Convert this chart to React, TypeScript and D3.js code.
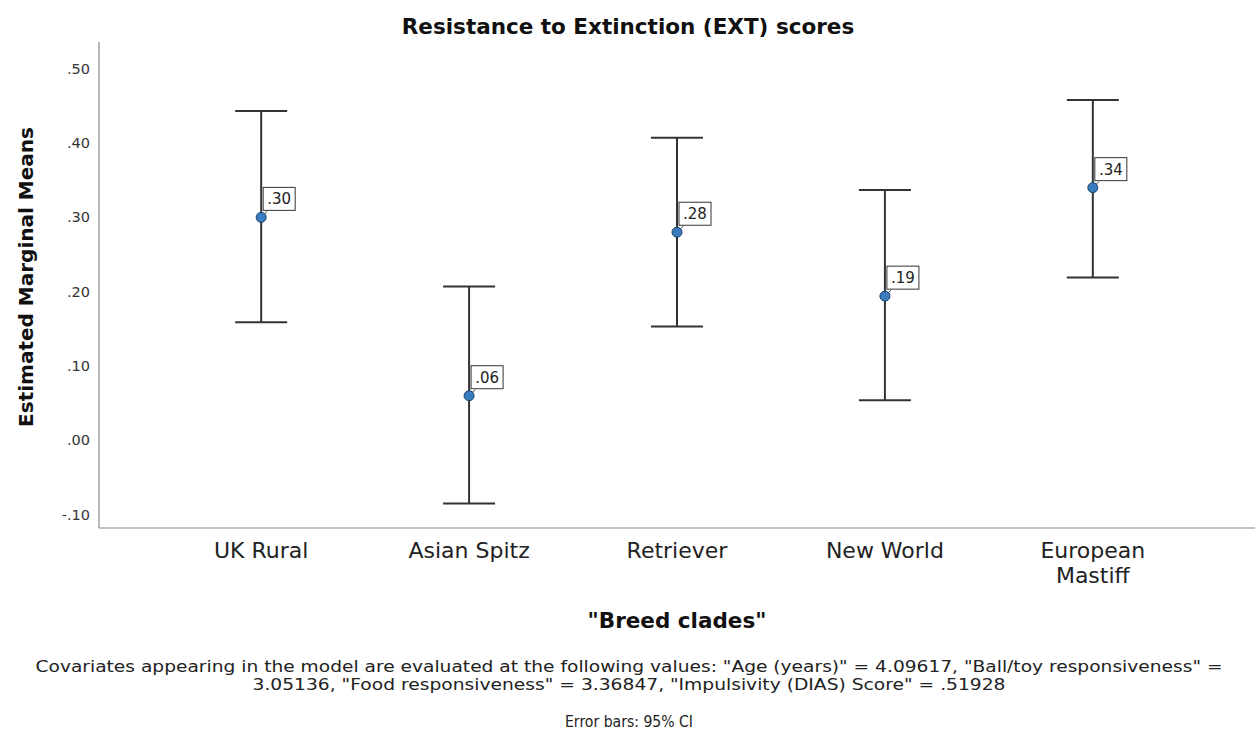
import React from 'react';
import * as d3 from 'd3';

const clades = ['UK Rural', 'Asian Spitz', 'Retriever', 'New World', 'European Mastiff'];
const means = [0.30, 0.06, 0.28, 0.194, 0.34];
const lower = [0.159, -0.085, 0.153, 0.054, 0.219];
const upper = [0.443, 0.207, 0.407, 0.337, 0.458];
const yTicks = [-0.1, 0, 0.1, 0.2, 0.3, 0.4, 0.5];
const footLines = [
  'Covariates appearing in the model are evaluated at the following values: "Age (years)" = 4.09617, "Ball/toy responsiveness" =',
  '3.05136, "Food responsiveness" = 3.36847, "Impulsivity (DIAS) Score" = .51928',
];

const W = 1259;
const H = 735;
const font = '"DejaVu Sans", sans-serif';

const fmt = (v: number) => {
  const s = Math.abs(v).toFixed(2).replace(/^0/, '');
  return v < 0 ? '-' + s : s;
};

export default function App() {
  const left = 99;
  const right = 1255;
  const top = 42;
  const bottom = 528;

  const x = d3.scalePoint<string>().domain(clades).range([left, right]).padding(0.78);
  const y = d3.scaleLinear().domain([-0.118, 0.536]).range([bottom, top]);

  const data = clades.map((c, i) => ({ c, m: means[i], lo: lower[i], hi: upper[i] }));

  return (
    <svg width={W} height={H} style={{ position: 'absolute', left: 0, top: 0, background: '#fff' }} fontFamily={font}>
      <text x={628} y={34} textAnchor="middle" fontSize={21.5} fontWeight="bold" fill="#111">
        Resistance to Extinction (EXT) scores
      </text>

      {/* axes */}
      <line x1={left} x2={left} y1={top} y2={bottom} stroke="#888" strokeWidth={1.2} />
      <line x1={left} x2={right} y1={bottom} y2={bottom} stroke="#888" strokeWidth={1.2} />

      {yTicks.map(t => (
        <text key={t} x={90} y={y(t) + 5} textAnchor="end" fontSize={14.5} fill="#333">
          {fmt(t)}
        </text>
      ))}

      <text
        transform={`translate(33, 277) rotate(-90)`}
        textAnchor="middle"
        fontSize={20}
        fontWeight="bold"
        fill="#111"
      >
        Estimated Marginal Means
      </text>

      {clades.map(c => {
        const words = c === 'European Mastiff' ? ['European', 'Mastiff'] : [c];
        return (
          <text key={c} x={x(c)} y={558} textAnchor="middle" fontSize={22} fill="#222">
            {words.map((w, j) => (
              <tspan key={w} x={x(c)} dy={j === 0 ? 0 : 25}>{w}</tspan>
            ))}
          </text>
        );
      })}

      <text x={(left + right) / 2} y={628} textAnchor="middle" fontSize={21.5} fontWeight="bold" fill="#111">
        "Breed clades"
      </text>

      {/* error bars and means */}
      {data.map(d => {
        const cx = x(d.c)!;
        const cy = y(d.m);
        return (
          <g key={d.c}>
            <line x1={cx} x2={cx} y1={y(d.hi)} y2={y(d.lo)} stroke="#333" strokeWidth={2} />
            <line x1={cx - 26} x2={cx + 26} y1={y(d.hi)} y2={y(d.hi)} stroke="#333" strokeWidth={2} />
            <line x1={cx - 26} x2={cx + 26} y1={y(d.lo)} y2={y(d.lo)} stroke="#333" strokeWidth={2} />
            <line x1={cx} x2={cx + 6} y1={cy} y2={cy - 6} stroke="#333" strokeWidth={1} />
            <rect x={cx + 2} y={cy - 30} width={32} height={23} fill="#fff" stroke="#333" strokeWidth={1} />
            <text x={cx + 18} y={cy - 13} textAnchor="middle" fontSize={15} fill="#222">
              {fmt(d.m)}
            </text>
            <circle cx={cx} cy={cy} r={5} fill="#3a7cc0" stroke="#1d3f66" strokeWidth={1} />
          </g>
        );
      })}

      {footLines.map((l, i) => (
        <text
          key={i}
          x={629}
          y={672 + i * 18}
          textAnchor="middle"
          fontSize={15}
          fill="#222"
          textLength={i === 0 ? 1187 : 753}
          lengthAdjust="spacingAndGlyphs"
        >
          {l}
        </text>
      ))}
      <text x={629} y={727} textAnchor="middle" fontSize={15} fill="#222" textLength={128} lengthAdjust="spacingAndGlyphs">
        Error bars: 95% CI
      </text>
    </svg>
  );
}
